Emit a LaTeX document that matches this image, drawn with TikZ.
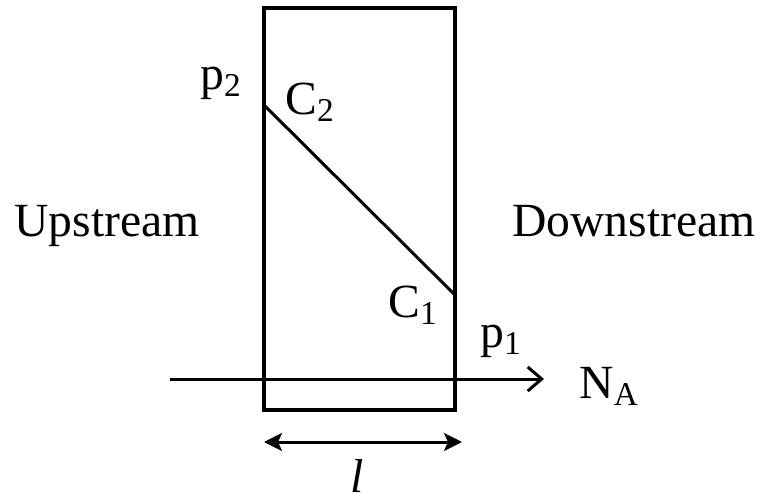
\documentclass[tikz,border=0pt]{standalone}
\usepackage{fontspec}
\setmainfont{Liberation Serif}
\usetikzlibrary{arrows.meta, positioning}

\begin{document}
\begin{tikzpicture}[x=0.5pt, y=-0.5pt, font=\fontsize{23.8pt}{28pt}\selectfont,
          wall/.style={draw=black, line width=2pt, minimum width=95.5pt, minimum height=201pt, inner sep=0pt},
          thinline/.style={line width=1.5pt, color=black},
          flux/.style={-{Straight Barb[length=7pt, width=12pt, line width=1.5pt]}, line width=1.5pt},
          dim/.style={{Stealth[length=9pt, width=9pt, inset=2pt]}-{Stealth[length=9pt, width=9pt, inset=2pt]}, line width=1.5pt},
          lbl/.style={inner sep=0pt, anchor=base west}]
        \useasboundingbox (0,0) rectangle (761,503);

        % membrane
        \node [wall] (slab) at (359.5,208.5) {};
        \coordinate (c2) at (264,105);
        \coordinate (c1) at (455,295);
        \draw [thinline] (c2) -- (c1);

        % labels
        \node [lbl] (up) at (14,236) {Upstream};
        \node [lbl] (down) at (512,236) {Downstream};
        \node [lbl] (p2) at (200,89) {p\textsubscript{2}};
        \node [lbl] (cc2) at (285,114) {C\textsubscript{2}};
        \node [lbl] (cc1) at (388,317) {C\textsubscript{1}};
        \node [lbl] (p1) at (480,347) {p\textsubscript{1}};

        % flux
        \coordinate (fluxin) at (170,379);
        \coordinate (fluxout) at (544,379);
        \node [lbl] (na) at (579,398) {N\textsubscript{A}};
        \draw [flux] (fluxin) -- (fluxout);

        % thickness
        \coordinate (lleft) at (264,442);
        \coordinate (lright) at (462,442);
        \draw [dim] (lleft) -- (lright);
        \node [inner sep=0pt, anchor=base] (len) at (357,492) {\textit{l}};
\end{tikzpicture}
\end{document}
